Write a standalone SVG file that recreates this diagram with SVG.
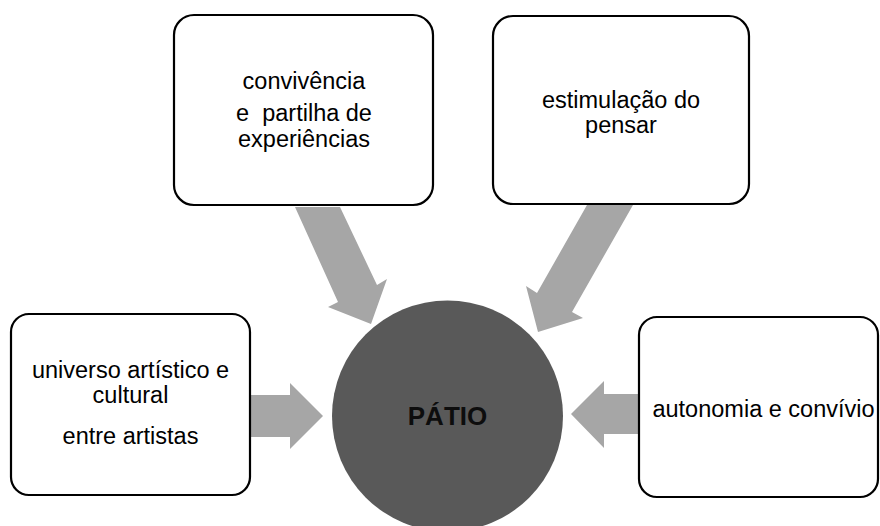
<svg xmlns="http://www.w3.org/2000/svg" width="880" height="526" viewBox="0 0 880 526">
<style>
.box{fill:#fff;stroke:#000;stroke-width:2.2}
.arr{fill:#a6a6a6;stroke:none}
.t{font-family:"Liberation Sans",Arial,sans-serif;font-size:23.5px;fill:#000;text-anchor:middle}
.c{font-family:"Liberation Sans",Arial,sans-serif;font-size:26px;font-weight:bold;fill:#0d0d0d;text-anchor:middle}
</style>
<rect width="880" height="526" fill="#fff"/>
<g id="connectors">
<polygon class="arr" points="295,207 340,207 377,285 387,279 371,324 328,307 338,302"/>
<polygon class="arr" points="587,205 633,205 572,312 583,318 538,332 526,286 537,293"/>
<polygon class="arr" points="250,395 290,395 290,383 323,416 290,449 290,437 250,437"/>
<polygon class="arr" points="639,394 604,394 604,381 571,414 604,448 604,434 639,434"/>
</g>
<g id="center">
<circle cx="447.5" cy="416" r="115.5" fill="#595959"/>
<text class="c" x="447.5" y="425">PÁTIO</text>
</g>
<g id="n1">
<rect class="box" x="174" y="15" width="259" height="190" rx="20"/>
<text class="t" x="304" y="89">convivência</text>
<text class="t" x="304" y="121" xml:space="preserve">e  partilha de</text>
<text class="t" x="304" y="147">experiências</text>
</g>
<g id="n2">
<rect class="box" x="493" y="16" width="256" height="188" rx="20"/>
<text class="t" x="621" y="108">estimulação do</text>
<text class="t" x="621" y="133">pensar</text>
</g>
<g id="n3">
<rect class="box" x="11" y="314" width="239" height="181" rx="18"/>
<text class="t" x="130.5" y="378">universo artístico e</text>
<text class="t" x="130.5" y="403">cultural</text>
<text class="t" x="130.5" y="444">entre artistas</text>
</g>
<g id="n4">
<rect class="box" x="639" y="317" width="239" height="180" rx="18"/>
<text class="t" x="763.5" y="417">autonomia e convívio</text>
</g>
</svg>
